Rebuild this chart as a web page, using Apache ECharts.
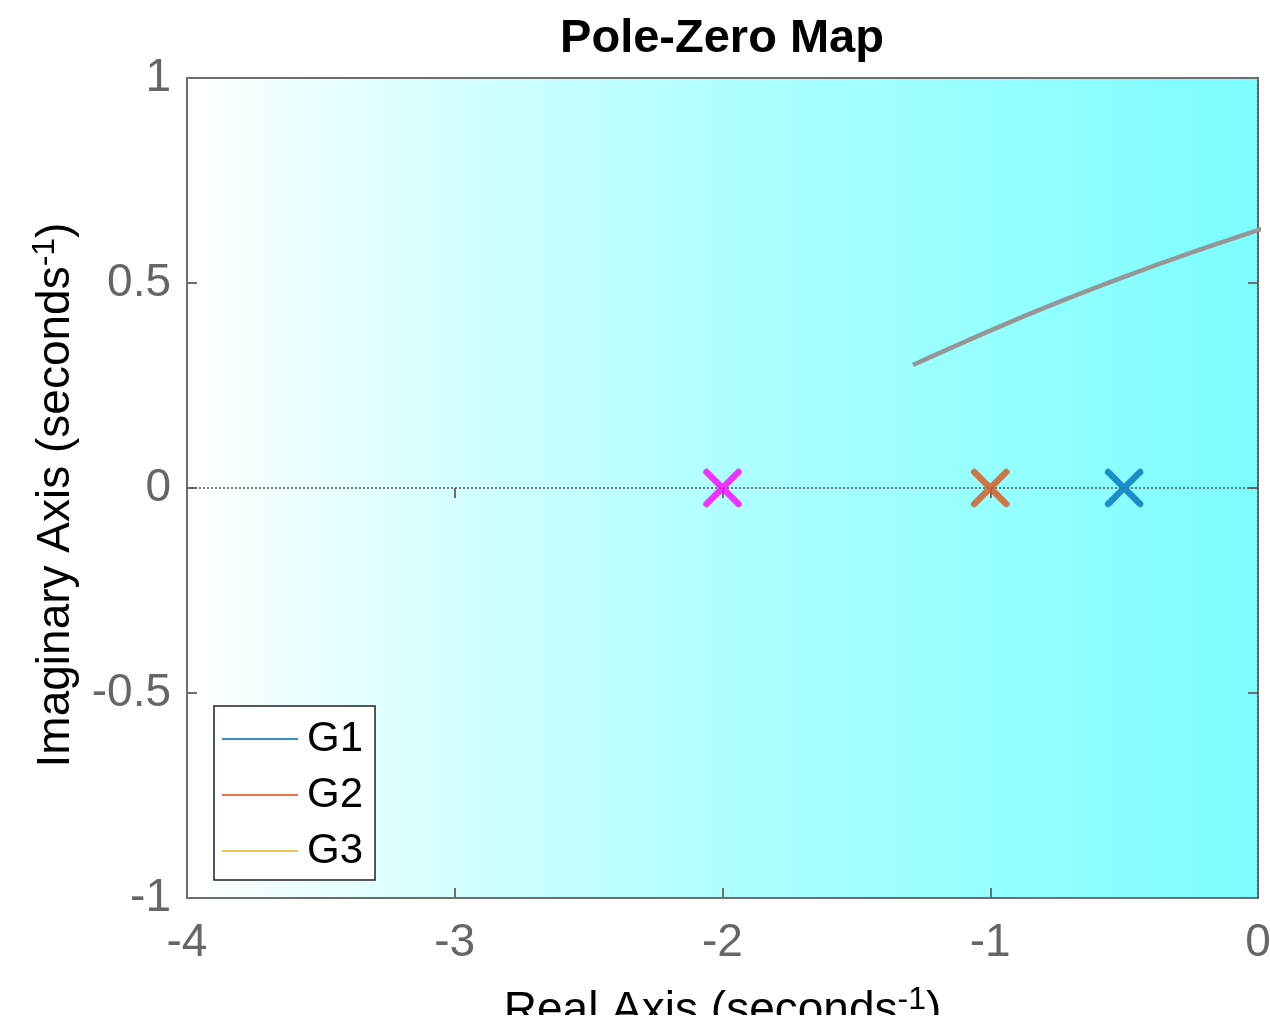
<!DOCTYPE html>
<html>
<head>
<meta charset="utf-8">
<script src="https://cdn.jsdelivr.net/npm/echarts@6/dist/echarts.min.js"></script>
<style>html,body{margin:0;padding:0;background:#fff;}#main{width:1270px;height:1030px;}</style>
</head>
<body>
<div id="main"></div>
<script>
// ---- data ----
const seriesNames = ['G1', 'G2', 'G3'];
const seriesColors = ['#0072BD', '#D95319', '#EDB120'];
const markerColors = ['#0072BD', '#D95319', '#FF00FF'];
const poleRe = [-0.5, -1, -2];
const poleIm = [0, 0, 0];
const curveRe = [-1.289, -1.0, -0.75, -0.5, -0.25, 0, 0.045];
const curveIm = [0.300, 0.384, 0.452, 0.515, 0.574, 0.629, 0.638];
const xTicks = [-4, -3, -2, -1, 0];
const yTicks = [-1, -0.5, 0, 0.5, 1];

const font = 'Liberation Sans, Arial, Helvetica, sans-serif';
const chart = echarts.init(document.getElementById('main'), null, {renderer: 'canvas'});

const xPath = 'path://M0,0L10,10M10,0L0,10';

const series = [];
// zero lines (dotted)
series.push({
  type: 'line', data: [[xTicks[0], 0], [xTicks[xTicks.length - 1], 0]], symbol: 'none',
  lineStyle: {color: '#555', width: 1.5, type: [2, 2]}, silent: true, z: 2
});
series.push({
  type: 'line', data: [[0, yTicks[0]], [0, yTicks[yTicks.length - 1]]], symbol: 'none',
  lineStyle: {color: '#555', width: 1.5, type: [2, 2]}, silent: true, z: 2
});
// grey curve
series.push({
  type: 'line', data: curveRe.map((x, i) => [x, curveIm[i]]), symbol: 'none', smooth: 0.4,
  clip: false, lineStyle: {color: '#969696', width: 4.5}, silent: true, z: 3
});
// poles
seriesNames.forEach((n, i) => {
  series.push({
    name: n, type: 'scatter', data: [[poleRe[i], poleIm[i]]],
    symbol: xPath, symbolSize: 32,
    itemStyle: {color: 'transparent', borderColor: markerColors[i], borderWidth: 6.5, borderCap: 'round'},
    z: 5
  });
});

const option = {
  animation: false,
  backgroundColor: '#fff',
  title: {
    text: 'Pole-Zero Map', left: 717, top: 11, textAlign: 'center',
    textStyle: {fontFamily: font, fontWeight: 'bold', fontSize: 47, color: '#000'}
  },
  grid: {
    left: 187, top: 78, width: 1071, height: 820, show: true,
    outerBoundsMode: 'none', containLabel: false,
    borderColor: '#6e6e6e', borderWidth: 2,
    backgroundColor: {type: 'linear', x: 0, y: 0, x2: 1, y2: 0,
      colorStops: [{offset: 0, color: '#ffffff'}, {offset: 0.25, color: '#d4ffff'},
        {offset: 0.5, color: '#b0ffff'}, {offset: 0.76, color: '#95ffff'}, {offset: 1, color: '#7cfcff'}]}
  },
  legend: {
    data: seriesNames.map((n, i) => ({name: n, itemStyle: {color: seriesColors[i], borderWidth: 0}})),
    orient: 'vertical', left: 214, top: 706,
    padding: [12, 12, 8, 8], itemGap: 14, itemWidth: 76, itemHeight: 2,
    icon: 'rect',
    backgroundColor: '#fff', borderColor: '#222', borderWidth: 1.5,
    textStyle: {fontFamily: font, fontSize: 42, color: '#000', lineHeight: 42, padding: [0, 0, 0, 4]}
  },
  xAxis: [{
    type: 'value', min: -4, max: 0, interval: 1,
    name: '{t|Real Axis (seconds}{s|-1}{t|)}', nameLocation: 'middle', nameGap: 86,
    nameTextStyle: {rich: {
      t: {fontFamily: font, fontSize: 46, color: '#000'},
      s: {fontFamily: font, fontSize: 32, color: '#000', verticalAlign: 'top', padding: [0, 0, 22, 0]}
    }},
    axisLine: {show: true, onZero: false, lineStyle: {color: '#6e6e6e', width: 2}},
    axisTick: {show: true, inside: true, length: 10, lineStyle: {color: '#6e6e6e', width: 2}},
    axisLabel: {fontFamily: font, fontSize: 46, color: '#666', margin: 22,
      formatter: v => String(v)},
    splitLine: {show: false}
  }, {
    type: 'value', min: -4, max: 0, interval: 1, position: 'top',
    axisLine: {show: false}, axisTick: {show: true, inside: true, length: 10, lineStyle: {color: '#6e6e6e', width: 2}},
    axisLabel: {show: false}, splitLine: {show: false}
  }],
  yAxis: [{
    type: 'value', min: -1, max: 1, interval: 0.5,
    name: '{t|Imaginary Axis (seconds}{s|-1}{t|)}', nameLocation: 'middle', nameGap: 104,
    nameTextStyle: {padding: [0, 14, 0, 0], rich: {
      t: {fontFamily: font, fontSize: 46, color: '#000'},
      s: {fontFamily: font, fontSize: 32, color: '#000', verticalAlign: 'top', padding: [0, 0, 22, 0]}
    }},
    axisLine: {show: true, onZero: false, lineStyle: {color: '#6e6e6e', width: 2}},
    axisTick: {show: true, inside: true, length: 10, lineStyle: {color: '#6e6e6e', width: 2}},
    axisLabel: {fontFamily: font, fontSize: 46, color: '#666', margin: 16,
      formatter: v => String(v)},
    splitLine: {show: false}
  }, {
    type: 'value', min: -1, max: 1, interval: 0.5, position: 'right',
    axisLine: {show: false}, axisTick: {show: true, inside: true, length: 10, lineStyle: {color: '#6e6e6e', width: 2}},
    axisLabel: {show: false}, splitLine: {show: false}
  }],
  graphic: [{
    type: 'rect', left: 0, top: 1015, shape: {width: 1270, height: 15},
    style: {fill: '#fff'}, z: 1000
  }],
  series: series
};
chart.setOption(option);
</script>
</body>
</html>
